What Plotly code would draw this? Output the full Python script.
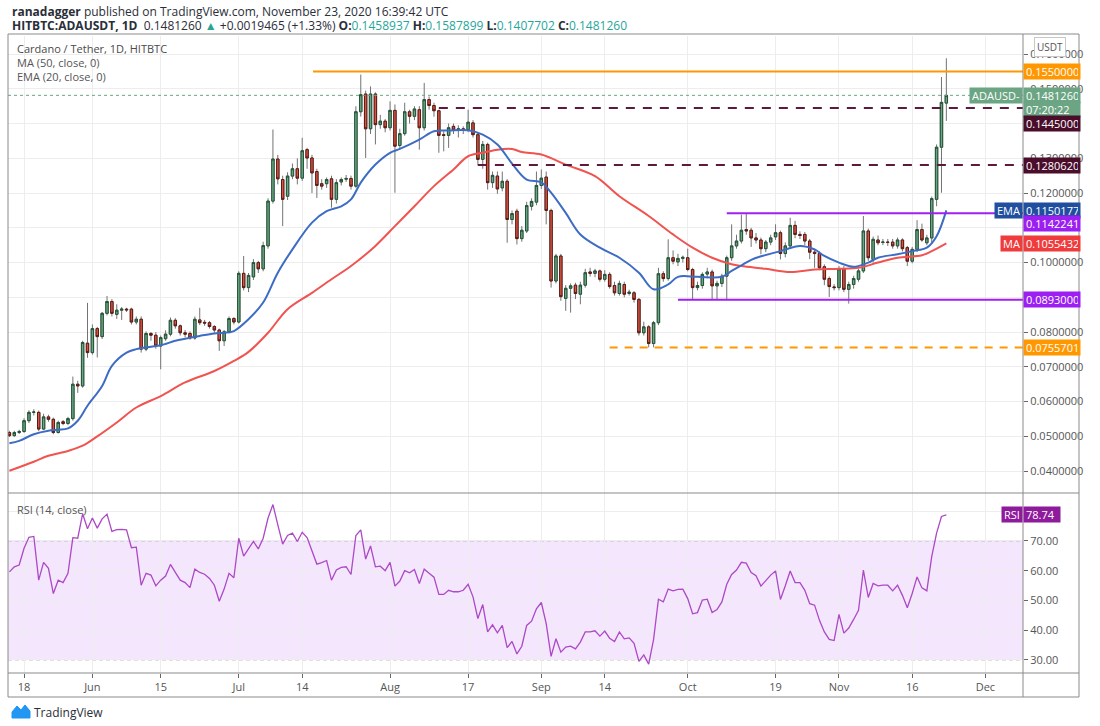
import pandas as pd
import plotly.graph_objects as go
from plotly.subplots import make_subplots

start = pd.Timestamp("2020-05-15")
dates = pd.date_range(start, periods=193, freq="D")

opens = [
    .0511, .0502, .0511, .0514, .0545, .0569, .0569, .0521, .0556, .0549,
    .0511, .0542, .0537, .0551, .0650, .0645, .0768, .0741, .0810, .0787,
    .0854, .0888, .0851, .0863, .0866, .0866, .0829, .0837, .0751, .0796,
    .0791, .0760, .0781, .0794, .0834, .0818, .0798, .0796, .0783, .0835,
    .0828, .0827, .0816, .0806, .0775, .0801, .0839, .0829, .0969, .0928,
    .0959, .1000, .0982, .1048, .1177, .1298, .1239, .1191, .1249, .1270,
    .1243, .1325, .1301, .1262, .1227, .1227, .1241, .1182, .1232, .1240,
    .1242, .1220, .1434, .1485, .1385, .1485, .1397, .1407, .1388, .1438,
    .1337, .1371, .1434, .1421, .1440, .1388, .1469, .1452, .1437, .1368,
    .1366, .1392, .1381, .1385, .1383, .1402, .1368, .1297, .1340, .1230,
    .1249, .1215, .1234, .1124, .1148, .1069, .1091, .1162, .1174, .1222,
    .1246, .1150, .0947, .1019, .0897, .0926, .0935, .0909, .0935, .0973,
    .0969, .0976, .0952, .0966, .0934, .0911, .0937, .0911, .0913, .0894,
    .0798, .0815, .0767, .0827, .0968, .0954, .1014, .1002, .1012, .1014,
    .0980, .0928, .0934, .0967, .0973, .0933, .0940, .0961, .1014, .1048,
    .1062, .1095, .1093, .1071, .1065, .1040, .1059, .1074, .1086, .1026,
    .1048, .1107, .1081, .1081, .1062, .1030, .1026, .0988, .0954, .0930,
    .0928, .0982, .0923, .0937, .0952, .0976, .1091, .1009, .1065, .1058,
    .1059, .1059, .1048, .1065, .1043, .1004, .1038, .1095, .1057, .1071,
    .1182, .1332, .1458937,
]
highs = [
    .0516, .0516, .0519, .0552, .0575, .0578, .0574, .0565, .0562, .0554,
    .0545, .0547, .0556, .0672, .0660, .0775, .0884, .0822, .0815, .0858,
    .0904, .0895, .0880, .0872, .0870, .0870, .0845, .0845, .0802, .0800,
    .0800, .0790, .0805, .0842, .0840, .0822, .0806, .0802, .0845, .0870,
    .0835, .0832, .0820, .0810, .0806, .0845, .0843, .0975, .1019, .0970,
    .1010, .1005, .1060, .1185, .1383, .1310, .1250, .1260, .1285, .1300,
    .1359, .1330, .1310, .1270, .1240, .1245, .1250, .1240, .1245, .1252,
    .1250, .1450, .1541, .1495, .1507, .1490, .1425, .1413, .1464, .1455,
    .1385, .1460, .1440, .1450, .1450, .1517, .1478, .1460, .1440, .1378,
    .1400, .1400, .1395, .1392, .1440, .1410, .1375, .1350, .1345, .1262,
    .1262, .1262, .1240, .1150, .1155, .1105, .1175, .1185, .1262, .1268,
    .1262, .1155, .1025, .1025, .0935, .0940, .0942, .0945, .0982, .0985,
    .0982, .0980, .0978, .0972, .0945, .0948, .0945, .0922, .0918, .0898,
    .0830, .0820, .0832, .0985, .0975, .1067, .1035, .1025, .1020, .1040,
    .0985, .0945, .0972, .0985, .0980, .0948, .0968, .1020, .1110, .1080,
    .1138, .1140, .1100, .1085, .1072, .1065, .1080, .1110, .1092, .1058,
    .1129, .1120, .1090, .1088, .1068, .1040, .1032, .0995, .0960, .0938,
    .0990, .0990, .0945, .0962, .0982, .1134, .1098, .1075, .1078, .1068,
    .1068, .1068, .1072, .1070, .1048, .1045, .1122, .1112, .1080, .1190,
    .1340, .1534, .1587899,
]
lows = [
    .0498, .0499, .0507, .0510, .0538, .0560, .0515, .0518, .0542, .0506,
    .0508, .0532, .0532, .0545, .0625, .0640, .0726, .0735, .0727, .0780,
    .0848, .0845, .0838, .0835, .0858, .0822, .0822, .0741, .0745, .0775,
    .0752, .0693, .0775, .0788, .0810, .0790, .0785, .0778, .0778, .0820,
    .0818, .0810, .0798, .0746, .0760, .0796, .0822, .0825, .0920, .0915,
    .0950, .0970, .0975, .1040, .1170, .1225, .1105, .1180, .1240, .1225,
    .1235, .1270, .1200, .1186, .1210, .1215, .1158, .1170, .1222, .1232,
    .1210, .1215, .1420, .1301, .1370, .1340, .1385, .1375, .1380, .1201,
    .1330, .1365, .1400, .1410, .1325, .1380, .1440, .1420, .1316, .1320,
    .1330, .1370, .1360, .1370, .1375, .1360, .1280, .1270, .1210, .1215,
    .1198, .1205, .1057, .1110, .1052, .1060, .1085, .1150, .1165, .1212,
    .1110, .0928, .0940, .0890, .0861, .0856, .0895, .0880, .0928, .0960,
    .0958, .0945, .0945, .0925, .0905, .0905, .0900, .0905, .0885, .0790,
    .0790, .0756, .0756, .0820, .0945, .0948, .0995, .0990, .1000, .0975,
    .0894, .0920, .0925, .0955, .0894, .0894, .0930, .0894, .1005, .1040,
    .1055, .1080, .1045, .1055, .1024, .1030, .1050, .1065, .1009, .1015,
    .1040, .1070, .1068, .1050, .1010, .0985, .0978, .0935, .0901, .0920,
    .0920, .0915, .0882, .0925, .0945, .0970, .1005, .1000, .1050, .1050,
    .1048, .1040, .1040, .1032, .0990, .0998, .1030, .1060, .1050, .1058,
    .1162, .1201, .1407702,
]
closes = [
    .0502, .0511, .0514, .0545, .0569, .0570, .0521, .0556, .0549, .0511,
    .0540, .0537, .0551, .0650, .0645, .0770, .0741, .0810, .0787, .0854,
    .0888, .0854, .0863, .0866, .0864, .0829, .0837, .0751, .0796, .0791,
    .0760, .0784, .0794, .0834, .0818, .0798, .0794, .0783, .0837, .0827,
    .0826, .0816, .0806, .0775, .0801, .0839, .0829, .0969, .0928, .0963,
    .1000, .0982, .1049, .1177, .1298, .1241, .1182, .1249, .1270, .1243,
    .1322, .1301, .1258, .1222, .1220, .1239, .1182, .1230, .1239, .1242,
    .1220, .1434, .1483, .1385, .1485, .1397, .1407, .1388, .1438, .1335,
    .1371, .1434, .1421, .1442, .1388, .1469, .1452, .1437, .1366, .1366,
    .1388, .1381, .1385, .1381, .1404, .1368, .1297, .1340, .1230, .1251,
    .1212, .1234, .1124, .1141, .1069, .1093, .1164, .1176, .1222, .1243,
    .1150, .0947, .1019, .0902, .0926, .0933, .0911, .0935, .0971, .0969,
    .0976, .0952, .0966, .0931, .0913, .0940, .0909, .0915, .0894, .0798,
    .0815, .0767, .0827, .0968, .0954, .1014, .1004, .1012, .1015, .0980,
    .0928, .0934, .0966, .0973, .0933, .0940, .0961, .1014, .1048, .1062,
    .1093, .1091, .1071, .1065, .1040, .1059, .1071, .1086, .1026, .1048,
    .1107, .1081, .1078, .1062, .1030, .1026, .0985, .0952, .0931, .0928,
    .0982, .0923, .0937, .0954, .0976, .1091, .1014, .1067, .1057, .1059,
    .1058, .1048, .1065, .1040, .1004, .1038, .1095, .1065, .1071, .1184,
    .1332, .1461, .1481260,
]

rsi_vals = [
    59.6, 61.3, 61.9, 67.5, 71.2, 71.5, 56.8, 62.8, 60.8, 52.3,
    56.8, 56.0, 59.1, 71.1, 70.9, 79.1, 74.1, 77.7, 74.3, 77.4,
    79.0, 73.2, 73.8, 73.9, 73.7, 67.7, 67.9, 55.1, 59.1, 58.5,
    54.9, 56.8, 58.2, 62.1, 59.4, 56.8, 56.0, 54.3, 60.5, 59.4,
    58.8, 57.4, 55.1, 49.7, 53.8, 59.1, 57.6, 70.9, 64.9, 67.5,
    69.8, 67.3, 70.9, 77.7, 82.2, 75.4, 68.9, 71.8, 72.6, 69.8,
    72.9, 71.1, 66.4, 62.2, 62.7, 63.4, 56.8, 60.2, 61.1, 61.3,
    58.7, 71.8, 73.7, 63.9, 68.3, 61.3, 61.5, 60.0, 62.8, 54.8,
    56.5, 60.0, 59.3, 60.4, 55.7, 60.5, 59.1, 57.8, 52.0, 52.0,
    53.4, 52.9, 52.9, 53.4, 55.4, 51.2, 43.9, 48.6, 39.4, 41.8,
    39.1, 41.6, 34.1, 36.2, 32.0, 34.6, 41.6, 43.0, 47.2, 49.3,
    42.2, 31.2, 37.1, 32.6, 34.3, 34.6, 33.7, 36.0, 39.4, 39.4,
    39.8, 38.0, 39.7, 37.3, 36.2, 39.4, 37.1, 37.4, 35.6, 29.5,
    31.7, 28.6, 36.8, 50.4, 49.5, 53.8, 53.2, 53.7, 53.8, 50.6,
    45.5, 45.9, 50.1, 50.4, 45.9, 46.9, 49.5, 55.4, 58.7, 60.2,
    62.8, 62.5, 59.4, 58.3, 54.8, 56.8, 58.5, 59.9, 50.3, 54.9,
    59.9, 56.0, 56.0, 53.4, 48.9, 48.4, 43.3, 39.4, 36.9, 36.5,
    45.3, 39.0, 40.7, 43.6, 46.7, 60.2, 51.0, 55.7, 54.9, 55.1,
    55.1, 53.2, 55.1, 51.7, 47.5, 52.3, 57.9, 54.2, 53.2, 64.7,
    72.6, 78.2, 78.74,
]

# EMA(20) and MA(50) at sample days (days after 2020-05-15)
ema_days = [0, 2, 5, 8, 10, 12, 14, 16, 19, 21, 24, 26, 29, 31, 34, 36, 39, 42, 44, 46,
            49, 52, 55, 58, 62, 65, 68, 70, 72, 75, 78, 80, 84, 87, 90, 94, 97, 100, 103, 106,
            109, 111, 114, 117, 121, 125, 129, 132, 135, 137, 141, 146, 148, 150, 152, 154, 158, 162, 165, 167,
            170, 173, 176, 178, 182, 185, 188, 190, 192]
ema_vals = [.0480, .0487, .0506, .0516, .0519, .0523, .0545, .0588, .0645, .0703,
            .0741, .0751, .0758, .0762, .0775, .0781, .0789, .0796, .0798, .0803,
            .0837, .0885, .0971, .1038, .1115, .1148, .1162, .1182, .1230, .1282,
            .1316, .1327, .1354, .1378, .1380, .1381, .1368, .1340, .1285, .1239,
            .1231, .1201, .1143, .1081, .1043, .1014, .0971, .0923, .0937, .0959,
            .0959, .0959, .0976, .0992, .1008, .1018, .1033, .1048, .1038, .1019,
            .1000, .0988, .1000, .1014, .1024, .1033, .1043, .1076, .1150177]
ma_days = [0, 5, 8, 12, 15, 18, 22, 26, 31, 36, 42, 46, 49, 53, 57, 62, 66, 70, 75, 79,
           83, 87, 91, 94, 97, 100, 103, 105, 109, 114, 120, 125, 131, 136, 140, 144, 148, 150, 155, 160,
           165, 170, 174, 178, 182, 187, 189, 192]
ma_vals = [.0401, .0427, .0444, .0458, .0473, .0500, .0540, .0583, .0616, .0655,
           .0688, .0717, .0743, .0798, .0866, .0913, .0952, .0990, .1048, .1105,
           .1162, .1220, .1268, .1306, .1316, .1325, .1327, .1318, .1311, .1282,
           .1249, .1191, .1134, .1081, .1043, .1014, .0995, .0990, .0982, .0973,
           .0980, .0982, .0985, .1000, .1014, .1021, .1033, .1055432]

tick_dates = ["2020-05-18", "2020-06-01", "2020-06-15", "2020-07-01", "2020-07-14", "2020-08-01",
              "2020-08-17", "2020-09-01", "2020-09-14", "2020-10-01", "2020-10-19", "2020-11-01",
              "2020-11-16", "2020-12-01"]
tick_text = ["18", "Jun", "15", "Jul", "14", "Aug", "17", "Sep", "14", "Oct", "19", "Nov", "16", "Dec"]

price_ticks = [0.04, 0.05, 0.06, 0.07, 0.08, 0.09, 0.10, 0.11, 0.12, 0.13, 0.14, 0.15, 0.16]
# labels fully hidden behind level tags in the reference are left blank
price_tick_text = ["0.0400000", "0.0500000", "0.0600000", "0.0700000", "0.0800000", "",
                   "0.1000000", "", "0.1200000", "0.1300000", "", "0.1500000", "0.1600000"]
rsi_ticks = [30, 40, 50, 60, 70, 80]
rsi_tick_text = ["30.00", "40.00", "50.00", "60.00", "70.00", ""]

# drawn levels: (start date, level, colour, dash)
levels = [
    ("2020-07-16 05:00", 0.1550000, "#ff9800", "solid"),
    ("2020-08-11 00:00", 0.1445000, "#5d1a3c", "9px,8px"),
    ("2020-08-19 00:00", 0.1280620, "#5d1a3c", "9px,8px"),
    ("2020-10-09 00:00", 0.1142241, "#a020f0", "solid"),
    ("2020-09-29 00:00", 0.0893000, "#a020f0", "solid"),
    ("2020-09-15 00:00", 0.0755701, "#ff9800", "8px,7px"),
]

last_price = 0.1481260
rsi_last = 78.74

X_LEFT = "2020-05-14 17:00"
X_RIGHT = "2020-12-08 17:00"
FONT = "Open Sans"

ema_x = [start + pd.Timedelta(days=d) for d in ema_days]
ma_x = [start + pd.Timedelta(days=d) for d in ma_days]

fig = make_subplots(rows=2, cols=1, shared_xaxes=True, vertical_spacing=0,
                    row_heights=[0.7174, 0.2826])

# wicks
fig.add_trace(go.Candlestick(
    x=dates, open=opens, high=highs, low=lows, close=closes,
    increasing=dict(line=dict(color="#737375", width=1), fillcolor="#6ba583"),
    decreasing=dict(line=dict(color="#737375", width=1), fillcolor="#d75442"),
    whiskerwidth=0, showlegend=False, hoverinfo="skip"), row=1, col=1)
# bodies with darker borders
body_hi = [max(o, c) for o, c in zip(opens, closes)]
body_lo = [min(o, c) for o, c in zip(opens, closes)]
fig.add_trace(go.Candlestick(
    x=dates, open=opens, high=body_hi, low=body_lo, close=closes,
    increasing=dict(line=dict(color="#225437", width=1), fillcolor="#6ba583"),
    decreasing=dict(line=dict(color="#5b1a13", width=1), fillcolor="#d75442"),
    whiskerwidth=0, showlegend=False, hoverinfo="skip"), row=1, col=1)

fig.add_trace(go.Scatter(x=ma_x, y=ma_vals, mode="lines", line=dict(color="#f05350", width=2, shape="spline"),
                         showlegend=False, hoverinfo="skip"), row=1, col=1)
fig.add_trace(go.Scatter(x=ema_x, y=ema_vals, mode="lines", line=dict(color="#3d6cc4", width=2, shape="spline"),
                         showlegend=False, hoverinfo="skip"), row=1, col=1)
fig.add_trace(go.Scatter(x=dates, y=rsi_vals, mode="lines", line=dict(color="#ad48c6", width=1.3),
                         showlegend=False, hoverinfo="skip"), row=2, col=1)

shapes = []
# RSI band
shapes.append(dict(type="rect", xref="x2", yref="y2", x0=X_LEFT, x1=X_RIGHT, y0=30, y1=70,
                   fillcolor="#f3e6fd", line=dict(width=0), layer="below"))
for lv in (30, 70):
    shapes.append(dict(type="line", xref="x2", yref="y2", x0=X_LEFT, x1=X_RIGHT, y0=lv, y1=lv,
                       line=dict(color="#b9aec2", width=1, dash="4px,3px"), layer="below"))
# last price dotted line
shapes.append(dict(type="line", xref="x", yref="y", x0=X_LEFT, x1=X_RIGHT, y0=last_price, y1=last_price,
                   line=dict(color="#6ba583", width=1, dash="dot")))
for x0, lv, col, dash in levels:
    shapes.append(dict(type="line", xref="x", yref="y", x0=x0, x1=X_RIGHT, y0=lv, y1=lv,
                       line=dict(color=col, width=2, dash=dash)))


# page pixel -> paper coordinates (plot area spans page x 8..1023, y 36..673)
def pp(px, py):
    return (px - 8) / 1015.0, (673 - py) / 637.0


fx0, fy0 = pp(8, 697)
fx1, fy1 = pp(1079, 34)
shapes.append(dict(type="rect", xref="paper", yref="paper", x0=fx0, x1=fx1, y0=fy0, y1=fy1,
                   line=dict(color="#8a8a8a", width=1)))
shapes.append(dict(type="line", xref="paper", yref="paper", x0=1.0, x1=1.0, y0=fy0, y1=fy1,
                   line=dict(color="#8a8a8a", width=1)))
sx, sy = pp(8, 493)
shapes.append(dict(type="line", xref="paper", yref="paper", x0=fx0, x1=fx1, y0=sy, y1=sy,
                   line=dict(color="#8a8a8a", width=1)))
shapes.append(dict(type="line", xref="paper", yref="paper", x0=fx0, x1=fx1, y0=0, y1=0,
                   line=dict(color="#8a8a8a", width=1)))
# TradingView logo mark
pts = [(12, 718), (12, 712), (17, 706), (21, 710), (25, 705), (30, 711), (30, 718)]
path = "M " + " L ".join("%f,%f" % pp(a, b) for a, b in pts) + " Z"
shapes.append(dict(type="path", xref="paper", yref="paper", path=path,
                   fillcolor="#2196f3", line=dict(color="#2196f3", width=1)))

annotations = []


def ann(text, x, y, yref="paper", xanchor="left", size=11, color="#555555", **kw):
    d = dict(text=text, x=x, y=y, xref="paper", yref=yref, xanchor=xanchor, yanchor="middle",
             showarrow=False, font=dict(family=FONT, size=size, color=color))
    d.update(kw)
    annotations.append(d)


def axis_label(y, text, bg, yref="y", width=52):
    annotations.append(dict(text=text, x=1.0, y=y, xref="paper", yref=yref, xanchor="left",
                            yanchor="middle", showarrow=False, bgcolor=bg, borderpad=2,
                            width=width, height=11, align="left",
                            font=dict(family=FONT, size=11, color="white")))


def side_label(y, text, bg, yref="y"):
    annotations.append(dict(text=text, x=1.0, y=y, xref="paper", yref=yref, xanchor="right",
                            yanchor="middle", showarrow=False, bgcolor=bg, borderpad=2, height=11,
                            font=dict(family=FONT, size=11, color="white")))


teal = "#26a69a"
x, y = pp(10, 11)
ann("<b>ranadagger</b> published on TradingView.com, November 23, 2020 16:39:42 UTC", x, y,
    size=12, color="#2a2e39")
x, y = pp(10, 25)
ann("<b>HITBTC:ADAUSDT, 1D</b>  0.1481260 <span style='color:%s'>▲</span> +0.0019465 (+1.33%%) "
    "<b>O:</b><span style='color:%s'>0.1458937</span> <b>H:</b><span style='color:%s'>0.1587899</span> "
    "<b>L:</b><span style='color:%s'>0.1407702</span> <b>C:</b><span style='color:%s'>0.1481260</span>"
    % (teal, teal, teal, teal, teal), x, y, size=12, color="#2a2e39")
x, y = pp(15, 48)
ann("Cardano / Tether, 1D, HITBTC", x, y, size=11, color="#4a4a4a")
x, y = pp(15, 62)
ann("MA (50, close, 0)", x, y, size=11)
x, y = pp(15, 77)
ann("EMA (20, close, 0)", x, y, size=11)
x, y = pp(15, 509)
ann("RSI (14, close)", x, y, size=11)
x, y = pp(32, 712)
ann("TradingView", x, y, size=12, color="#2a2e39")

# USDT box on top of price axis
x, y = pp(1050, 47)
annotations.append(dict(text="USDT", x=x, y=y, xref="paper", yref="paper", xanchor="center",
                        yanchor="middle", showarrow=False, bgcolor="white", bordercolor="#c8c8c8",
                        borderwidth=1, borderpad=2, font=dict(family=FONT, size=10, color="#555555")))

axis_label(0.1550000, "0.1550000", "#ff9800")
axis_label(last_price, "0.1481260", "#6ba583")
side_label(last_price, "ADAUSD-", "#6ba583")
axis_label(0.1440, "07:20:22", "#6ba583")
axis_label(0.1399, "0.1445000", "#4a0d2a")
axis_label(0.1280620, "0.1280620", "#4a0d2a")
axis_label(0.1150177, "0.1150177", "#1f4f9e")
side_label(0.1150177, "EMA", "#1f4f9e")
axis_label(0.1112, "0.1142241", "#9c1ff2")
axis_label(0.1055432, "0.1055432", "#ef3b3b")
side_label(0.1055432, "MA", "#ef3b3b")
axis_label(0.0893000, "0.0893000", "#9c1ff2")
axis_label(0.0755701, "0.0755701", "#ff9800")
axis_label(rsi_last, "78.74", "#8e1a9c", yref="y2", width=32)
side_label(rsi_last, "RSI", "#8e1a9c", yref="y2")

fig.update_layout(
    width=1100, height=726,
    margin=dict(l=8, r=77, t=36, b=53),
    paper_bgcolor="white", plot_bgcolor="white",
    font=dict(family=FONT, size=11, color="#4c4c4c"),
    showlegend=False, hovermode=False,
    shapes=shapes, annotations=annotations,
)
grid = "#ededed"
fig.update_xaxes(range=[X_LEFT, X_RIGHT], tickvals=tick_dates, ticktext=tick_text,
                 showgrid=True, gridcolor=grid, gridwidth=1, zeroline=False,
                 rangeslider=dict(visible=False), showline=False)
fig.update_xaxes(showticklabels=False, ticks="", row=1, col=1)
fig.update_xaxes(ticks="outside", ticklen=4, tickcolor="#666666",
                 tickfont=dict(family=FONT, size=11, color="#555555"), row=2, col=1)
fig.update_yaxes(side="right", range=[0.0337, 0.1652], tickvals=price_ticks, ticktext=price_tick_text,
                 showgrid=True, gridcolor=grid, zeroline=False, ticks="outside", ticklen=4,
                 tickcolor="#666666", tickfont=dict(family=FONT, size=11, color="#555555"),
                 row=1, col=1)
fig.update_yaxes(side="right", range=[25.6, 86.1], tickvals=rsi_ticks, ticktext=rsi_tick_text,
                 showgrid=True, gridcolor=grid, zeroline=False, ticks="outside", ticklen=4,
                 tickcolor="#666666", tickfont=dict(family=FONT, size=11, color="#555555"),
                 row=2, col=1)

# remove the browser's default 8px body margin so the figure fills the window exactly
fig.write_html("out.html", config={"displayModeBar": False, "staticPlot": True},
               post_script="document.body.style.margin='0';document.body.style.overflow='hidden';")
